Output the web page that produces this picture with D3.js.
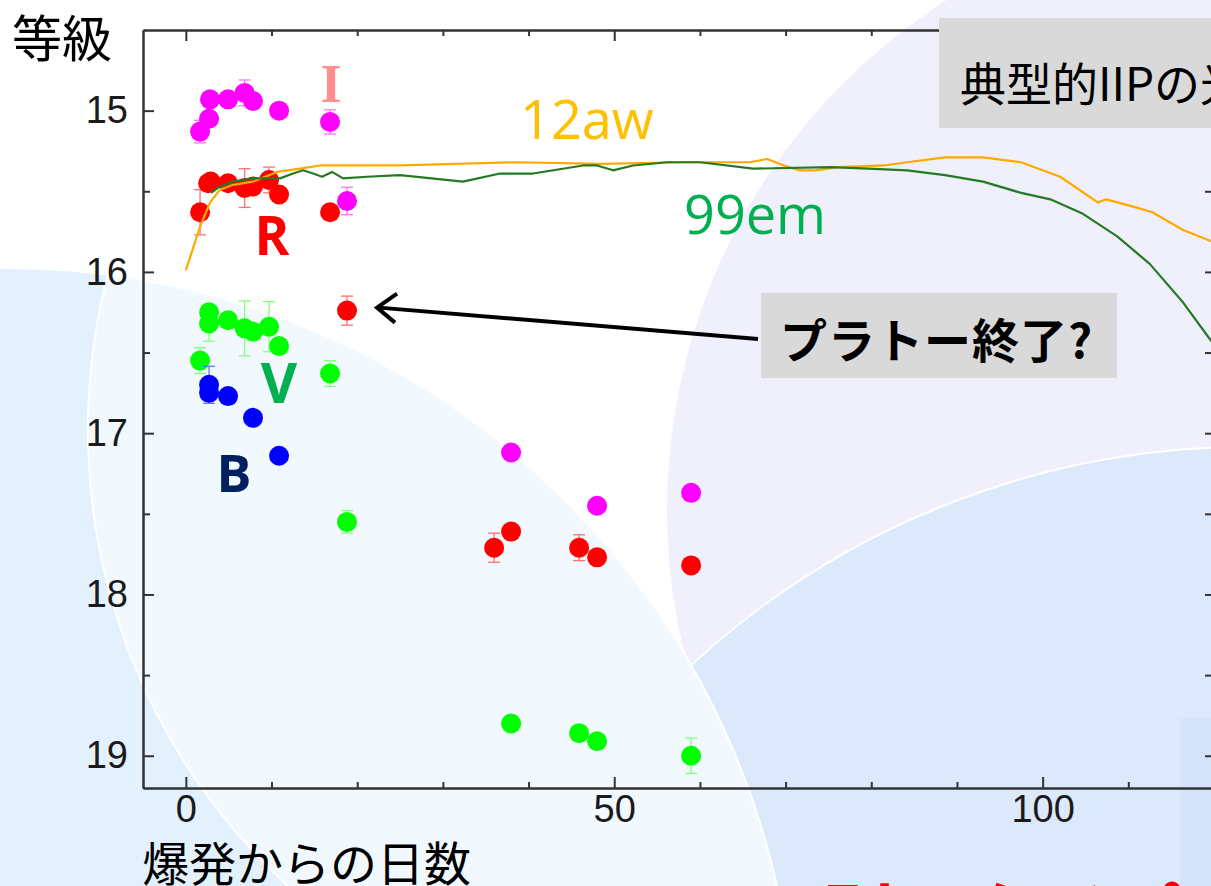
<!DOCTYPE html>
<html><head><meta charset="utf-8">
<script src="https://cdn.jsdelivr.net/npm/d3@7"></script>
<style>body{margin:0;background:#fff;overflow:hidden}svg{display:block}</style>
</head><body><svg id="c" width="1211" height="886"></svg>
<script>
// ---- data ----
const iDays = [1.66, 2.71, 2.82, 4.93, 6.86, 7.84, 10.88, 16.83, 18.81, 37.96, 48.0, 58.97];
const iMags = [15.13, 15.05, 14.93, 14.93, 14.89, 14.94, 15.00, 15.07, 15.56, 17.12, 17.45, 17.37];
const iErrs = [0.07, 0.03, 0.03, 0.03, 0.08, 0.03, 0.03, 0.075, 0.085, 0.03, 0.03, 0.03];

const rDays = [1.66, 2.6, 2.9, 4.93, 6.86, 7.84, 9.71, 10.88, 16.83, 18.81, 35.98, 37.96, 45.9, 48.0, 58.97];
const rMags = [15.63, 15.45, 15.44, 15.45, 15.48, 15.47, 15.43, 15.52, 15.63, 16.24, 17.71, 17.61, 17.71, 17.77, 17.82];
const rErrs = [0.14, 0.03, 0.03, 0.03, 0.12, 0.03, 0.08, 0.03, 0.03, 0.09, 0.09, 0.03, 0.08, 0.03, 0.03];

const vDays = [1.66, 2.71, 2.71, 4.93, 6.86, 7.84, 9.71, 10.88, 16.83, 18.81, 37.96, 45.9, 48.0, 58.97];
const vMags = [16.55, 16.32, 16.25, 16.30, 16.35, 16.37, 16.34, 16.46, 16.63, 17.55, 18.80, 18.86, 18.91, 19.00];
const vErrs = [0.08, 0.11, 0.04, 0.03, 0.17, 0.03, 0.155, 0.03, 0.08, 0.07, 0.03, 0.03, 0.03, 0.11];

const bDays = [2.71, 2.71, 4.93, 7.84, 10.88];
const bMags = [16.70, 16.75, 16.77, 16.905, 17.14];
const bErrs = [0.115, 0.04, 0.03, 0.03, 0.03];

const aw12Days = [0, 1.66, 2.82, 3.99, 5.51, 7.84, 10.64, 13.33, 15.66, 25.0, 38.66, 48.34, 58.03, 65.85, 67.84, 69.82, 71.57, 73.44, 76.13, 81.5, 84.18, 88.6, 90.83, 93.05, 97.48, 102.04, 106.48, 107.4, 110.9, 112.8, 116.4, 119.7];
const aw12Mags = [15.99, 15.72, 15.57, 15.49, 15.46, 15.44, 15.38, 15.36, 15.34, 15.34, 15.32, 15.33, 15.32, 15.32, 15.30, 15.34, 15.37, 15.37, 15.35, 15.34, 15.32, 15.29, 15.29, 15.29, 15.32, 15.41, 15.57, 15.55, 15.60, 15.63, 15.74, 15.81];

const em99Days = [2.94, 3.99, 5.51, 7.84, 10.99, 12.51, 13.68, 14.85, 15.90, 17.06, 18.35, 21.15, 25.0, 32.35, 36.67, 40.52, 46.36, 48.0, 49.86, 52.2, 56.17, 60.02, 66.21, 75.2, 79.63, 84.18, 88.6, 93.05, 97.48, 100.9, 104.7, 108.7, 112.5, 116.4, 119.7];
const em99Mags = [15.51, 15.47, 15.44, 15.42, 15.42, 15.39, 15.37, 15.39, 15.41, 15.38, 15.42, 15.41, 15.40, 15.44, 15.39, 15.39, 15.34, 15.34, 15.37, 15.34, 15.32, 15.32, 15.36, 15.35, 15.36, 15.37, 15.40, 15.44, 15.51, 15.55, 15.64, 15.78, 15.95, 16.19, 16.43];

const xMajorTicks = [0, 50, 100];
const xMinorTicks = [10, 20, 30, 40, 60, 70, 80, 90, 110, 120];
const yMajorTicks = [15, 16, 17, 18, 19];
const yMinorTicks = [15.5, 16.5, 17.5, 18.5];

// ---- setup ----
const svg = d3.select('#c');
const x = d3.scaleLinear().domain([-5, 120]).range([143, 1214]);
const y = d3.scaleLinear().domain([14.5, 19.2]).range([30, 788]);

// ---- slide background decorations ----
const deco = svg.append('g');
const defs = svg.append('defs');
defs.append('clipPath').attr('id', 'clipP').append('circle').attr('cx', 5).attr('cy', 1059).attr('r', 792);
defs.append('clipPath').attr('id', 'plotClip').append('rect').attr('x', 143).attr('y', 30).attr('width', 1071).attr('height', 758);
deco.append('circle').attr('cx', 1272).attr('cy', 510).attr('r', 605).attr('fill', '#f0f0fc');
deco.append('circle').attr('cx', 1248).attr('cy', 1266).attr('r', 819).attr('fill', '#dce9fb').attr('stroke', '#fff').attr('stroke-width', 2);
deco.append('circle').attr('cx', 5).attr('cy', 1059).attr('r', 791).attr('fill', '#e2f1fd').attr('stroke', '#fff').attr('stroke-width', 2);
deco.append('circle').attr('cx', 708).attr('cy', 430).attr('r', 620).attr('fill', '#fff').attr('fill-opacity', 0.55)
  .attr('stroke', '#fff').attr('stroke-width', 2).attr('clip-path', 'url(#clipP)');
deco.append('rect').attr('x', 1180).attr('y', 718).attr('width', 40).attr('height', 180).attr('fill', '#d3e4fb');

// ---- axes ----
function styleAxis(g) {
  g.select('.domain').attr('stroke', '#333').attr('stroke-width', 2);
  g.selectAll('.tick line').attr('stroke', '#333').attr('stroke-width', 2);
  g.selectAll('.tick text').attr('fill', '#1a1a1a').attr('font-family', 'Liberation Sans, Arial, sans-serif').attr('font-size', 38);
}
svg.append('g').attr('transform', 'translate(0,788)')
  .call(d3.axisBottom(x).tickValues(xMajorTicks).tickSize(-11).tickSizeOuter(0).tickPadding(7).tickFormat(d3.format('d')))
  .call(styleAxis);
svg.append('g').attr('transform', 'translate(0,788)')
  .call(d3.axisBottom(x).tickValues(xMinorTicks).tickSize(-6).tickSizeOuter(0).tickFormat(''))
  .call(styleAxis);
svg.append('g').attr('transform', 'translate(0,30)')
  .call(d3.axisTop(x).tickValues(xMajorTicks).tickSize(-11).tickSizeOuter(0).tickFormat(''))
  .call(styleAxis);
svg.append('g').attr('transform', 'translate(0,30)')
  .call(d3.axisTop(x).tickValues(xMinorTicks).tickSize(-6).tickSizeOuter(0).tickFormat(''))
  .call(styleAxis);
svg.append('g').attr('transform', 'translate(143,0)')
  .call(d3.axisLeft(y).tickValues(yMajorTicks).tickSize(-11).tickSizeOuter(0).tickPadding(15).tickFormat(d3.format('d')))
  .call(styleAxis);
svg.append('g').attr('transform', 'translate(143,0)')
  .call(d3.axisLeft(y).tickValues(yMinorTicks).tickSize(-7).tickSizeOuter(0).tickFormat(''))
  .call(styleAxis);
svg.append('g').attr('transform', 'translate(1214,0)')
  .call(d3.axisRight(y).tickValues(yMajorTicks.concat(yMinorTicks)).tickSize(-9).tickSizeOuter(0).tickFormat(''))
  .call(styleAxis);

// ---- data points ----
const bands = [
  {days: iDays, mags: iMags, errs: iErrs, color: '#ff00ff', errColor: '#ff70ff'},
  {days: rDays, mags: rMags, errs: rErrs, color: '#ff0000', errColor: '#ff7070'},
  {days: vDays, mags: vMags, errs: vErrs, color: '#00ff00', errColor: '#80ff80'},
  {days: bDays, mags: bMags, errs: bErrs, color: '#0000ff', errColor: '#7070ff'}
];
const pts = svg.append('g');
bands.forEach(b => {
  const data = b.days.map((d, i) => ({d, m: b.mags[i], e: b.errs[i]}));
  const g = pts.append('g');
  const eb = g.selectAll('.eb').data(data).enter().append('g').attr('stroke', b.errColor).attr('stroke-width', 1.3);
  eb.append('line').attr('x1', p => x(p.d)).attr('x2', p => x(p.d)).attr('y1', p => y(p.m - p.e)).attr('y2', p => y(p.m + p.e));
  eb.append('line').attr('x1', p => x(p.d) - 6).attr('x2', p => x(p.d) + 6).attr('y1', p => y(p.m - p.e)).attr('y2', p => y(p.m - p.e));
  eb.append('line').attr('x1', p => x(p.d) - 6).attr('x2', p => x(p.d) + 6).attr('y1', p => y(p.m + p.e)).attr('y2', p => y(p.m + p.e));
  g.selectAll('circle').data(data).enter().append('circle')
    .attr('cx', p => x(p.d)).attr('cy', p => y(p.m)).attr('r', 10).attr('fill', b.color);
});

// ---- template curves ----
const line = d3.line().x(p => x(p[0])).y(p => y(p[1]));
const curves = svg.append('g').attr('clip-path', 'url(#plotClip)');
curves.append('path').datum(aw12Days.map((d, i) => [d, aw12Mags[i]]))
  .attr('d', line).attr('fill', 'none').attr('stroke', '#ffa800').attr('stroke-width', 2.2).attr('stroke-linejoin', 'round');
curves.append('path').datum(em99Days.map((d, i) => [d, em99Mags[i]]))
  .attr('d', line).attr('fill', 'none').attr('stroke', '#237a23').attr('stroke-width', 2.2).attr('stroke-linejoin', 'round');

// ---- labels ----
const jp = "'Noto Sans CJK JP', sans-serif";
const os = "'Open Sans', sans-serif";
function txt(t, px, py, size, color, opts = {}) {
  return svg.append('text').attr('x', px).attr('y', py).text(t)
    .attr('font-size', size).attr('fill', color)
    .attr('font-family', opts.family || jp)
    .attr('font-weight', opts.weight || 'normal')
    .attr('text-anchor', opts.anchor || 'start');
}
txt('等級', 12, 57, 50, '#000');
txt('爆発からの日数', 142, 881, 47, '#000');
txt('I', 331, 102, 54, '#ff8f8f', {family: "'Liberation Serif', serif", weight: 'bold', anchor: 'middle'});
txt('R', 272, 255, 53, '#ff0000', {weight: 'bold', anchor: 'middle', family: os});
txt('V', 279, 403, 56, '#00b050', {weight: 'bold', anchor: 'middle', family: os});
txt('B', 234, 492, 52, '#002060', {weight: 'bold', anchor: 'middle', family: os});
txt('12aw', 520, 139, 54, '#ffc000', {family: os});
txt('99em', 684, 234, 54, '#00b050', {family: os});

// top-right box
svg.append('rect').attr('x', 939).attr('y', 18).attr('width', 300).attr('height', 110).attr('fill', '#d9d9d9');
txt('典型的IIPの光度曲線', 960, 101, 46, '#000');

// annotation arrow
const tipX = x(18.81) + 30, tipY = y(16.24) - 3;
svg.append('line').attr('x1', 758).attr('y1', 339).attr('x2', tipX + 2).attr('y2', tipY).attr('stroke', '#000').attr('stroke-width', 4);
svg.append('path').attr('d', `M${tipX + 20},${tipY - 14} L${tipX},${tipY} L${tipX + 18},${tipY + 15}`)
  .attr('fill', 'none').attr('stroke', '#000').attr('stroke-width', 4).attr('stroke-linejoin', 'miter');
svg.append('rect').attr('x', 761).attr('y', 293).attr('width', 356).attr('height', 85).attr('fill', '#d9d9d9');
txt('プラトー終了?', 780, 358, 47, '#000', {weight: 'bold'}).attr('letter-spacing', 1);

// bottom red text (cut off by slide frame)
txt('別のタイプ', 822, 943, 72, '#ff0000', {weight: 'bold'});
</script></body></html>
